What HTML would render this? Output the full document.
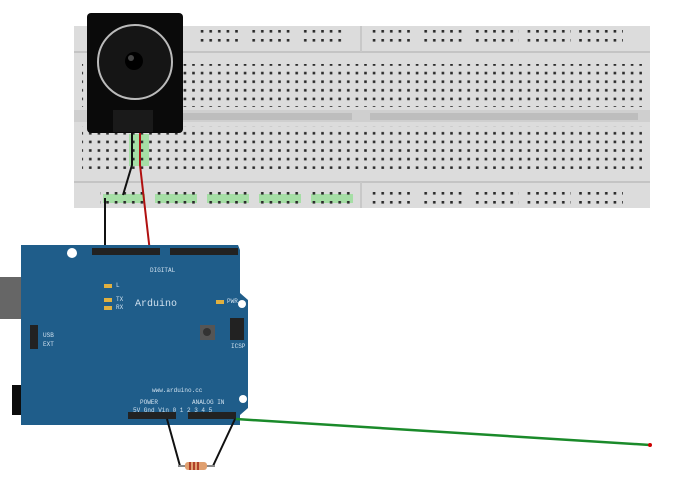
<!DOCTYPE html>
<html><head><style>body{margin:0;background:#fff}svg{display:block}</style></head><body>
<svg width="680" height="480" viewBox="0 0 680 480" xmlns="http://www.w3.org/2000/svg" font-family="Liberation Mono, monospace">
<defs>
<pattern id="h" x="0" y="0" width="8.6" height="8.6" patternUnits="userSpaceOnUse"><rect x="3" y="3" width="2.6" height="2.6" fill="#2a2a2a"/></pattern>
<pattern id="r" x="0" y="0" width="8.6" height="9" patternUnits="userSpaceOnUse"><rect x="3" y="3" width="2.6" height="2.6" fill="#2a2a2a"/></pattern>
</defs>
<rect x="74" y="26" width="576" height="182" fill="#dcdcdc"/>
<rect x="74" y="51" width="576" height="2" fill="#c4c4c4"/>
<rect x="74" y="181" width="576" height="2" fill="#c4c4c4"/>
<rect x="74" y="110" width="576" height="12" fill="#cfcfcf"/>
<rect x="120" y="113" width="232" height="7" fill="#bdbdbd"/>
<rect x="370" y="113" width="268" height="7" fill="#bdbdbd"/>
<rect x="360" y="26" width="2" height="26" fill="#c8c8c8"/>
<rect x="360" y="182" width="2" height="26" fill="#c8c8c8"/>
<g fill="#8fe08f" opacity="0.7">
<rect x="103" y="194" width="42" height="9"/><rect x="155" y="194" width="42" height="9"/><rect x="207" y="194" width="42" height="9"/><rect x="259" y="194" width="42" height="9"/><rect x="311" y="194" width="42" height="9"/>
<rect x="129" y="134" width="20" height="32"/>
</g>
<g fill="url(#r)">
<rect x="196" y="30" width="45" height="18"/><rect x="248" y="30" width="45" height="18"/><rect x="300" y="30" width="45" height="18"/>
<rect x="370" y="30" width="45" height="18"/><rect x="422" y="30" width="45" height="18"/><rect x="474" y="30" width="45" height="18"/><rect x="526" y="30" width="45" height="18"/><rect x="578" y="30" width="45" height="18"/>
<rect x="100" y="186" width="45" height="18"/><rect x="152" y="186" width="45" height="18"/><rect x="204" y="186" width="45" height="18"/><rect x="256" y="186" width="45" height="18"/><rect x="308" y="186" width="45" height="18"/>
<rect x="370" y="186" width="45" height="18"/><rect x="422" y="186" width="45" height="18"/><rect x="474" y="186" width="45" height="18"/><rect x="526" y="186" width="45" height="18"/><rect x="578" y="186" width="45" height="18"/>
</g>
<rect x="82" y="64" width="560" height="43" fill="url(#h)"/>
<rect x="82" y="126" width="560" height="43" fill="url(#h)"/>
<rect x="87" y="13" width="96" height="120" rx="4" fill="#0a0a0a"/>
<rect x="113" y="110" width="40" height="22" fill="#1a1a1a"/>
<circle cx="135" cy="62" r="37" fill="#151515" stroke="#bbb" stroke-width="2"/>
<circle cx="134" cy="61" r="9" fill="#000"/>
<circle cx="131" cy="58" r="3" fill="#444"/>
<path d="M132 133 V165 L123 195" stroke="#111" stroke-width="2" fill="none"/>
<path d="M140 133 V165 L150 252" stroke="#b01010" stroke-width="2" fill="none"/>
<path d="M105 198 V250" stroke="#111" stroke-width="2"/>
<rect x="0" y="277" width="50" height="42" fill="#666"/>
<rect x="12" y="385" width="45" height="30" fill="#0c0c0c"/>
<path d="M21 245 H238 L240 250 V293 L248 300 V408 L240 415 V425 H21 Z" fill="#1f5d8a"/>
<circle cx="72" cy="253" r="5" fill="#fff"/>
<circle cx="242" cy="304" r="4" fill="#fff"/>
<circle cx="243" cy="399" r="4" fill="#fff"/>
<rect x="92" y="248" width="68" height="7" fill="#222"/>
<rect x="170" y="248" width="68" height="7" fill="#222"/>
<rect x="128" y="412" width="48" height="7" fill="#222"/>
<rect x="188" y="412" width="48" height="7" fill="#222"/>
<rect x="200" y="325" width="15" height="15" fill="#555"/><circle cx="207" cy="332" r="4" fill="#333"/>
<rect x="230" y="318" width="14" height="22" fill="#222"/>
<rect x="30" y="325" width="8" height="24" fill="#222"/>
<g fill="#e0b040"><rect x="104" y="284" width="8" height="4"/><rect x="104" y="298" width="8" height="4"/><rect x="104" y="306" width="8" height="4"/><rect x="216" y="300" width="8" height="4"/></g>
<g fill="#cfe0ee" font-size="6">
<text x="135" y="306" font-size="10">Arduino</text>
<text x="152" y="392">www.arduino.cc</text>
<text x="140" y="404">POWER</text><text x="192" y="404">ANALOG IN</text>
<text x="133" y="412">5V Gnd Vin 0 1 2 3 4 5</text>
<text x="150" y="272">DIGITAL</text>
<text x="231" y="348">ICSP</text>
<text x="43" y="337">USB</text><text x="43" y="346">EXT</text>
<text x="116" y="287">L</text><text x="116" y="301">TX</text><text x="116" y="309">RX</text><text x="227" y="303">PWR</text>
</g>
<path d="M167 419 L180 466 M235 419 L213 466" stroke="#111" stroke-width="2" fill="none"/>
<path d="M178 466 H215" stroke="#888" stroke-width="2"/>
<rect x="185" y="462" width="22" height="8" rx="3" fill="#e0a070"/>
<path d="M190 462v8M194 462v8M198 462v8" stroke="#a02010" stroke-width="1.5"/>
<path d="M236 419 L650 445" stroke="#1a8a2a" stroke-width="2.5"/>
<circle cx="650" cy="445" r="2" fill="#c00"/>
</svg>
</body></html>
